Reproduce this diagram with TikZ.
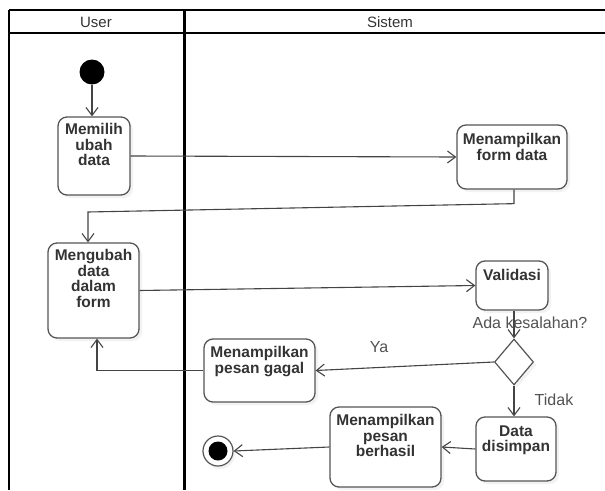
\documentclass[tikz,border=0pt]{standalone}
\usepackage{fontspec}
\setmainfont{Liberation Sans}
\usetikzlibrary{arrows.meta,shapes.geometric,shadows,calc}
\definecolor{txtc}{HTML}{333333}
\definecolor{boxc}{HTML}{555555}
\definecolor{linec}{HTML}{444444}
\tikzset{
  box/.style={draw=boxc, line width=1.3pt, rounded corners=9pt, fill=white,
    drop shadow={shadow xshift=3pt, shadow yshift=-3pt, fill=black!10},
    inner sep=0pt},
  boxtxt/.style={font=\fontsize{15.5}{15.5}\selectfont\bfseries, text=txtc,
    align=center, inner sep=0pt, anchor=north},
  conn/.style={draw=linec, line width=1.1pt,
    -{Straight Barb[length=8pt,width=12pt,line width=1.1pt]}},
  lbl/.style={font=\fontsize{16}{17}\selectfont, text=txtc!85, inner sep=0pt},
  lane/.style={draw=black},
}
\begin{document}
\begin{tikzpicture}[x=1pt,y=-1pt]
\useasboundingbox (0,0) rectangle (605,490);
% swimlanes
\draw[lane, line width=2pt] (9,10) -- (605,10);
\draw[lane, line width=1.4pt] (9,33) -- (605,33);
\draw[lane, line width=2.5pt] (9,10) -- (9,490);
\draw[lane, line width=3pt] (184,10) -- (184,490);
\node[lbl, text=txtc, font=\fontsize{15}{16}\selectfont] (hUser) at (96,22) {User};
\node[lbl, text=txtc, font=\fontsize{15}{16}\selectfont] (hSistem) at (390,22) {Sistem};

% start
\node[circle, fill=black, minimum size=25pt, inner sep=0pt] (start) at (92,72) {};

% boxes
\node[box, minimum width=72pt, minimum height=78pt] (memilih) at (94,156) {};
\node[boxtxt] (memilihT) at ([yshift=-7pt]memilih.north) {Memilih\\ubah\\data};

\node[box, minimum width=110pt, minimum height=64pt] (formdata) at (512,157) {};
\node[boxtxt] (formdataT) at ([yshift=-9pt]formdata.north) {Menampilkan\\form data};

\node[box, minimum width=91pt, minimum height=95pt] (mengubah) at (93.5,290.5) {};
\node[boxtxt] (mengubahT) at ([yshift=-7pt]mengubah.north) {Mengubah\\data\\dalam\\form};

\node[box, minimum width=72pt, minimum height=49pt] (validasi) at (512,285.5) {};
\node[boxtxt] (validasiT) at ([yshift=-9pt]validasi.north) {Validasi};

\node[diamond, draw=boxc, line width=1.2pt, fill=white, inner sep=0pt,
  minimum width=39pt, minimum height=46pt,
  drop shadow={shadow xshift=3pt, shadow yshift=-3pt, fill=black!10}] (dec) at (514,362) {};

\node[box, minimum width=111pt, minimum height=63pt] (gagal) at (259.5,370.5) {};
\node[boxtxt] (gagalT) at ([yshift=-8pt]gagal.north) {Menampilkan\\pesan gagal};

\node[box, minimum width=80pt, minimum height=64pt] (disimpan) at (516,449) {};
\node[boxtxt] (disimpanT) at ([yshift=-9pt]disimpan.north) {Data\\disimpan};

\node[box, minimum width=111pt, minimum height=80pt] (berhasil) at (385.5,447) {};
\node[boxtxt] (berhasilT) at ([yshift=-8pt]berhasil.north) {Menampilkan\\pesan\\berhasil};

% final
\node[circle, draw=boxc, line width=1.2pt, fill=white, minimum size=30pt, inner sep=0pt,
  drop shadow={shadow xshift=2pt, shadow yshift=-3pt, fill=black!10},
  path picture={\fill[black] (path picture bounding box.center) circle (9.5pt);}] (final) at (218,451) {};

% connectors
\coordinate (c1) at (88,212);
\draw[conn] (start) -- (start |- memilih.north);
\draw[conn] (memilih.east) -- (formdata.west);
\draw[conn] ([xshift=2pt]formdata.south) -- ++(0,14) -- (c1) -- (c1 |- mengubah.north);
\draw[conn] (mengubah.east) -- (validasi.west);
\draw[conn] ([xshift=2pt]validasi.south) -- (dec.north);
\draw[conn] (dec.west) -- (gagal.east);
\draw[conn] (gagal.west) -| ([xshift=3.5pt]mengubah.south);
\draw[conn] (dec.south) -- (dec.south |- disimpan.north);
\draw[conn] (disimpan.west) -- (berhasil.east);
\draw[conn] (berhasil.west) -- (final.east);

% labels
\node[lbl] (lAda) at (530,323) {Ada kesalahan?};
\node[lbl] (lYa) at (379,347) {Ya};
\node[lbl] (lTidak) at (554,400) {Tidak};
\end{tikzpicture}
\end{document}
